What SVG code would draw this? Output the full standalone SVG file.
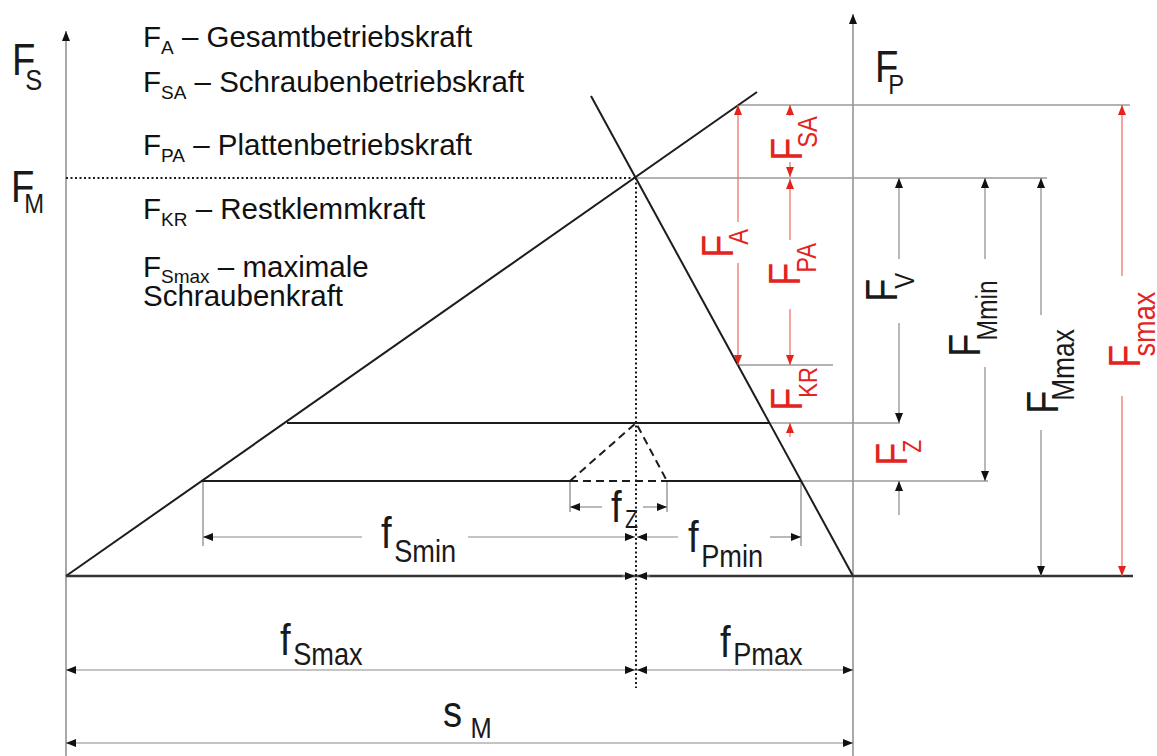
<svg xmlns="http://www.w3.org/2000/svg" width="1157" height="756" viewBox="0 0 1157 756">
<defs>
<style>
.lg{font-family:"Liberation Sans",Arial,sans-serif;font-size:29.5px;fill:#111}
.lg .s{font-size:19px}
.big{font-family:"Liberation Sans",Arial,sans-serif;font-size:45px;fill:#1a1a1a}
.red{fill:#e3241d}
.ax{stroke:#8c8c8c;stroke-width:1.5;fill:none}
.gr{stroke:#9a9a9a;stroke-width:1.5;fill:none}
.dim{stroke:#8a8a8a;stroke-width:1.2;fill:none}
.rdim{stroke:#ec6a62;stroke-width:1.2;fill:none}
.main{stroke:#1c1c1c;stroke-width:2;fill:none}
.dash{stroke:#1c1c1c;stroke-width:2;fill:none;stroke-dasharray:8 5}
.dot{stroke:#1c1c1c;stroke-width:2;fill:none;stroke-dasharray:2 2.5}
</style>
<marker id="ab" viewBox="0 0 10 8" refX="10" refY="4" markerWidth="10" markerHeight="8" markerUnits="userSpaceOnUse" orient="auto-start-reverse"><path d="M0,0 L10,4 L0,8 z" fill="#111"/></marker>
<marker id="ar" viewBox="0 0 10 8" refX="10" refY="4" markerWidth="10" markerHeight="8" markerUnits="userSpaceOnUse" orient="auto-start-reverse"><path d="M0,0 L10,4 L0,8 z" fill="#e3241d"/></marker>
</defs>
<rect width="1157" height="756" fill="#fff"/>

<g id="connectors">
<line class="ax" x1="66" y1="756" x2="66" y2="31" marker-end="url(#ab)"/>
<line class="ax" x1="853" y1="756" x2="853" y2="14" marker-end="url(#ab)"/>
<line class="gr" x1="738" y1="105" x2="1130" y2="105"/>
<line class="gr" x1="636" y1="178" x2="1047" y2="178"/>
<line class="gr" x1="738" y1="365" x2="833" y2="365"/>
<line class="gr" x1="770" y1="423" x2="900" y2="423"/>
<line class="gr" x1="801" y1="481" x2="988" y2="481"/>
<line class="gr" x1="203" y1="481" x2="203" y2="546"/>
<line class="gr" x1="801" y1="481" x2="801" y2="546"/>
<line class="gr" x1="570" y1="481" x2="570" y2="512"/>
<line class="gr" x1="667" y1="481" x2="667" y2="512"/>
<line class="main" x1="66" y1="576" x2="757" y2="92"/>
<line class="main" x1="591" y1="96" x2="853" y2="576"/>
<line class="main" x1="287" y1="423" x2="770" y2="423"/>
<line class="main" x1="202" y1="481" x2="570" y2="481"/>
<line class="main" x1="667" y1="481" x2="801" y2="481"/>
<line class="dash" x1="570" y1="481" x2="667" y2="481"/>
<polyline class="dash" points="570,481 636,423 667,481"/>
<line stroke="#333" stroke-width="2.5" x1="66" y1="576" x2="1133" y2="576"/>
<line class="dot" x1="66" y1="178" x2="636" y2="178"/>
<line class="dot" x1="636" y1="178" x2="636" y2="688"/>
<line class="rdim" x1="738" y1="222" x2="738" y2="105" marker-end="url(#ar)"/>
<line class="rdim" x1="738" y1="263" x2="738" y2="365" marker-end="url(#ar)"/>
<line class="rdim" x1="790" y1="116" x2="790" y2="105" marker-end="url(#ar)"/>
<line class="rdim" x1="790" y1="162" x2="790" y2="177" marker-end="url(#ar)"/>
<line class="rdim" x1="790" y1="240" x2="790" y2="179" marker-end="url(#ar)"/>
<line class="rdim" x1="790" y1="309" x2="790" y2="365" marker-end="url(#ar)"/>
<line class="rdim" x1="790" y1="437" x2="790" y2="423" marker-end="url(#ar)"/>
<line class="rdim" x1="1122" y1="276" x2="1122" y2="105" marker-end="url(#ar)"/>
<line class="rdim" x1="1122" y1="396" x2="1122" y2="576" marker-end="url(#ar)"/>
<line class="dim" x1="899" y1="259" x2="899" y2="178" marker-end="url(#ab)"/>
<line class="dim" x1="899" y1="323" x2="899" y2="423" marker-end="url(#ab)"/>
<line class="dim" x1="899" y1="515" x2="899" y2="481" marker-end="url(#ab)"/>
<line class="dim" x1="985" y1="259" x2="985" y2="178" marker-end="url(#ab)"/>
<line class="dim" x1="985" y1="367" x2="985" y2="481" marker-end="url(#ab)"/>
<line class="dim" x1="1041" y1="315" x2="1041" y2="178" marker-end="url(#ab)"/>
<line class="dim" x1="1041" y1="430" x2="1041" y2="576" marker-end="url(#ab)"/>
<line class="dim" x1="602" y1="507" x2="570" y2="507" marker-end="url(#ab)"/>
<line class="dim" x1="643" y1="507" x2="667" y2="507" marker-end="url(#ab)"/>
<line class="dim" x1="362" y1="537" x2="203" y2="537" marker-end="url(#ab)"/>
<line class="dim" x1="468" y1="537" x2="635" y2="537" marker-end="url(#ab)"/>
<line class="dim" x1="678" y1="537" x2="637" y2="537" marker-end="url(#ab)"/>
<line class="dim" x1="770" y1="537" x2="801" y2="537" marker-end="url(#ab)"/>
<line class="dim" x1="622" y1="576" x2="635" y2="576" marker-end="url(#ab)"/>
<line class="dim" x1="650" y1="576" x2="637" y2="576" marker-end="url(#ab)"/>
<line class="dim" x1="66" y1="670" x2="635" y2="670" marker-start="url(#ab)" marker-end="url(#ab)"/>
<line class="dim" x1="637" y1="670" x2="853" y2="670" marker-start="url(#ab)" marker-end="url(#ab)"/>
<line class="dim" x1="66" y1="743" x2="853" y2="743" marker-start="url(#ab)" marker-end="url(#ab)"/>
</g>

<g id="legend">
<text class="lg" x="143" y="47">F<tspan class="s" dy="7">A</tspan><tspan dy="-7"> – Gesamtbetriebskraft</tspan></text>
<text class="lg" x="143" y="92">F<tspan class="s" dy="7">SA</tspan><tspan dy="-7"> – Schraubenbetriebskraft</tspan></text>
<text class="lg" x="143" y="155">F<tspan class="s" dy="7">PA</tspan><tspan dy="-7"> – Plattenbetriebskraft</tspan></text>
<text class="lg" x="143" y="219">F<tspan class="s" dy="7">KR</tspan><tspan dy="-7"> – Restklemmkraft</tspan></text>
<text class="lg" x="143" y="277">F<tspan class="s" dy="6">Smax</tspan><tspan dy="-6"> – maximale</tspan></text>
<text class="lg" x="143" y="306">Schraubenkraft</text>
</g>

<g id="label-FS"><text class="big" transform="translate(12,75) scale(.85,1)">F<tspan dx="-12" dy="15" font-size="30">S</tspan></text></g>
<g id="label-FM"><text class="big" transform="translate(11,202) scale(.85,1)">F<tspan dx="-12" dy="11" font-size="28">M</tspan></text></g>
<g id="label-FP"><text class="big" transform="translate(875,82) scale(.85,1)">F<tspan dx="-12" dy="12" font-size="28">P</tspan></text></g>

<g id="label-FA"><text class="big red" transform="translate(733,258) rotate(-90) scale(.85,1)">F<tspan dx="-12" dy="15" font-size="28">A</tspan></text></g>
<g id="label-FSA"><text class="big red" transform="translate(802,161) rotate(-90) scale(.85,1)">F<tspan dx="-12" dy="15" font-size="28">SA</tspan></text></g>
<g id="label-FPA"><text class="big red" transform="translate(800,286) rotate(-90) scale(.85,1)">F<tspan dx="-12" dy="16" font-size="28">PA</tspan></text></g>
<g id="label-FKR"><text class="big red" transform="translate(802,411) rotate(-90) scale(.85,1)">F<tspan dx="-12" dy="15" font-size="26">KR</tspan></text></g>
<g id="label-FZ"><text class="big red" transform="translate(907,466) rotate(-90) scale(.85,1)">F<tspan dx="-12" dy="14" font-size="25">Z</tspan></text></g>
<g id="label-FV"><text class="big" transform="translate(897,302) rotate(-90) scale(.85,1)">F<tspan dx="-12" dy="17" font-size="28">V</tspan></text></g>
<g id="label-FMmin"><text class="big" transform="translate(980,357) rotate(-90) scale(.85,1)">F<tspan dx="-8" dy="17" font-size="29">Mmin</tspan></text></g>
<g id="label-FMmax"><text class="big" transform="translate(1058,414) rotate(-90) scale(.85,1)">F<tspan dx="-12" dy="16" font-size="31">Mmax</tspan></text></g>
<g id="label-FSmax"><text class="big red" transform="translate(1140,368) rotate(-90) scale(.85,1)">F<tspan dx="-14" dy="15" font-size="32">smax</tspan></text></g>

<g id="label-fZ"><text class="big" font-size="40" transform="translate(611,522) scale(.85,1)">f<tspan dx="4" dy="6" font-size="25">Z</tspan></text></g>
<g id="label-fSmin"><text class="big" font-size="42" transform="translate(381,548) scale(.85,1)">f<tspan dx="3" dy="14" font-size="32">Smin</tspan></text></g>
<g id="label-fPmin"><text class="big" font-size="42" transform="translate(688,552) scale(.85,1)">f<tspan dx="3" dy="15" font-size="32">Pmin</tspan></text></g>
<g id="label-fSmax"><text class="big" font-size="42" transform="translate(280,655) scale(.85,1)">f<tspan dx="3" dy="10" font-size="32">Smax</tspan></text></g>
<g id="label-fPmax"><text class="big" font-size="42" transform="translate(720,657) scale(.85,1)">f<tspan dx="3" dy="8" font-size="32">Pmax</tspan></text></g>
<g id="label-sM"><text class="big" font-size="44" transform="translate(443,727) scale(.85,1)">s<tspan dx="10" dy="11" font-size="30">M</tspan></text></g>
</svg>
